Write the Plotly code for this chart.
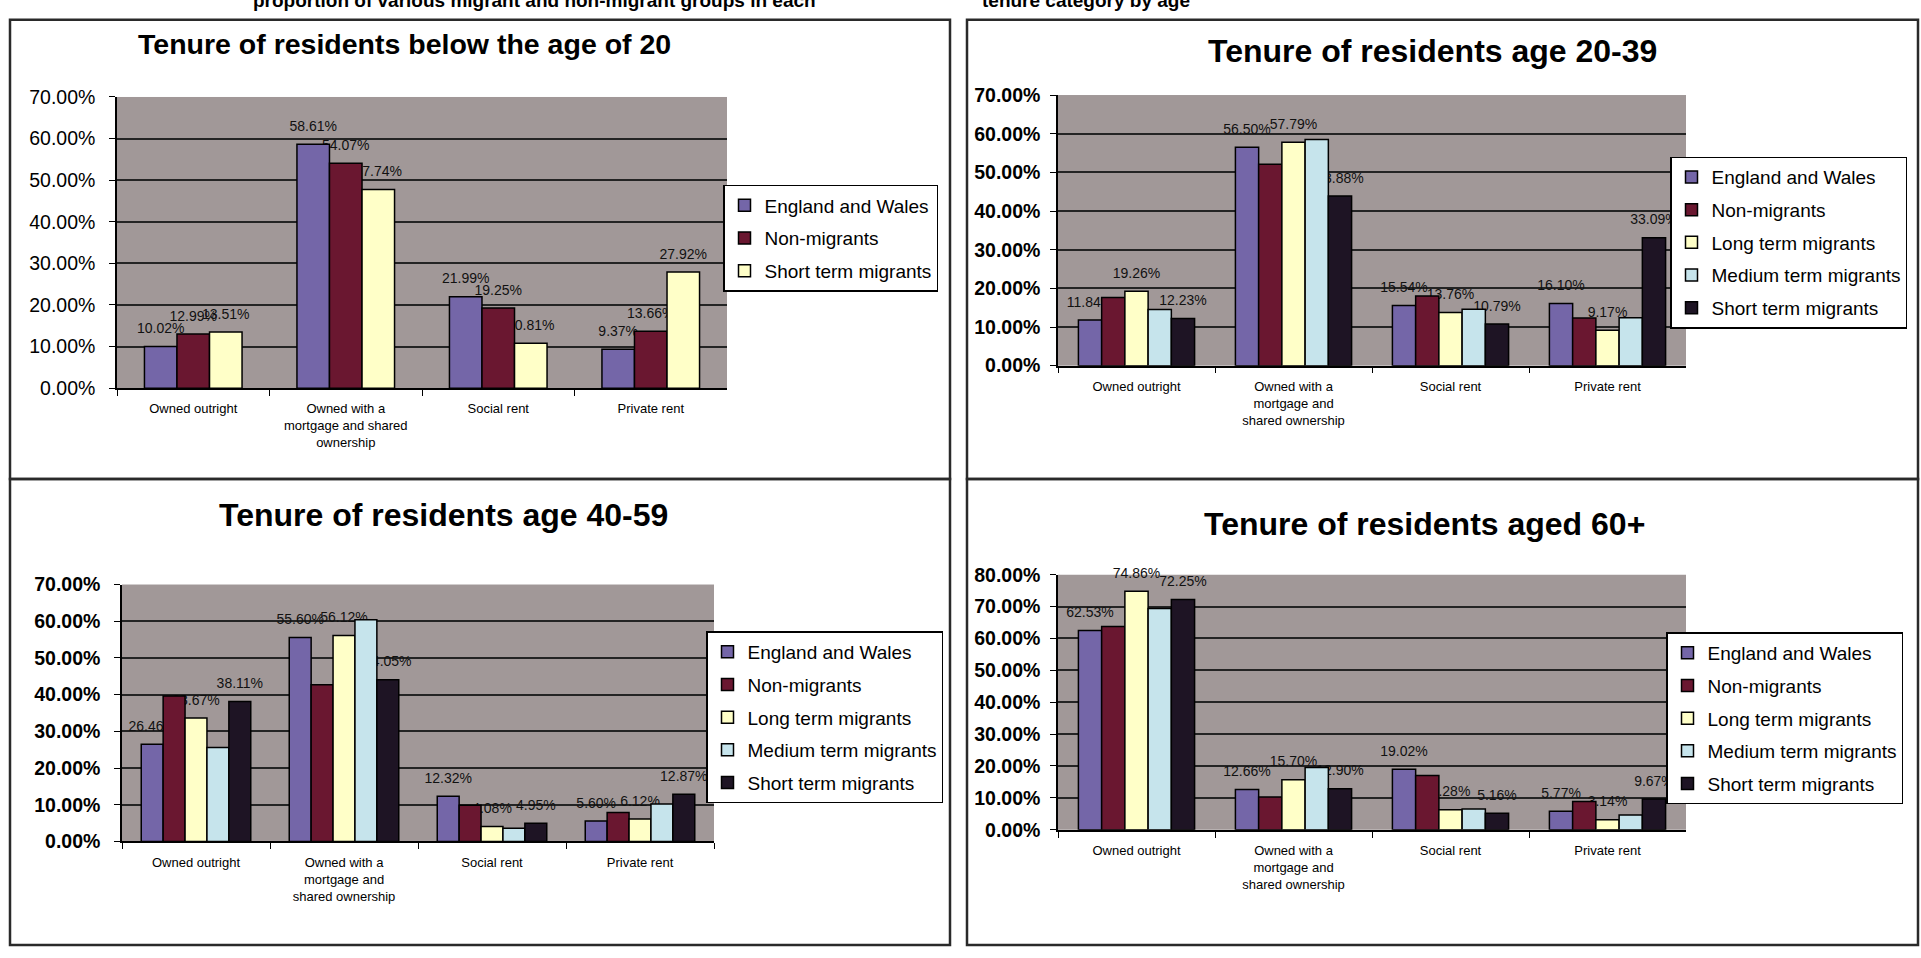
import plotly.graph_objects as go

W, H = 1921, 958
FONT = "Liberation Sans, Arial, sans-serif"

# ---- data -------------------------------------------------------------
CATS_U20 = ["Owned outright", "Owned with a<br>mortgage and shared<br>ownership",
            "Social rent", "Private rent"]
CATS = ["Owned outright", "Owned with a<br>mortgage and<br>shared ownership",
        "Social rent", "Private rent"]

SERIES_3 = ["England and Wales", "Non-migrants", "Short term migrants"]
SERIES_5 = ["England and Wales", "Non-migrants", "Long term migrants",
            "Medium term migrants", "Short term migrants"]

# residents below the age of 20 (%)
u20_england = [10.02, 58.61, 21.99, 9.37]
u20_nonmig = [12.99, 54.07, 19.25, 13.66]
u20_short = [13.51, 47.74, 10.81, 27.92]

# residents age 20-39 (%)
a20_england = [11.84, 56.50, 15.54, 16.10]
a20_nonmig = [17.6, 52.1, 18.0, 12.3]
a20_long = [19.26, 57.79, 13.76, 9.17]
a20_medium = [14.5, 58.5, 14.6, 12.4]
a20_short = [12.23, 43.88, 10.79, 33.09]

# residents age 40-59 (%)
a40_england = [26.46, 55.60, 12.32, 5.60]
a40_nonmig = [39.6, 42.7, 9.9, 7.9]
a40_long = [33.67, 56.12, 4.08, 6.12]
a40_medium = [25.6, 60.4, 3.6, 10.2]
a40_short = [38.11, 44.05, 4.95, 12.87]

# residents aged 60+ (%)
a60_england = [62.53, 12.66, 19.02, 5.77]
a60_nonmig = [63.8, 10.3, 17.0, 8.9]
a60_long = [74.86, 15.70, 6.28, 3.14]
a60_medium = [69.4, 19.5, 6.5, 4.6]
a60_short = [72.25, 12.90, 5.16, 9.67]

# ---- styling ----------------------------------------------------------
COLORS_5 = ["#7466A8", "#6A1730", "#FFFFC8", "#C6E4EC", "#1E1424"]
COLORS_3 = ["#7466A8", "#6A1730", "#FFFFC8"]
PLOT_BG = "#A19898"
GRID = "#242424"


def px_x(v):
    return v / W


def px_y(v):
    return 1 - v / H


panels = [
    dict(key="", legend="legend", title="Tenure of residents below the age of 20",
         title_xy=(404, 34), title_size=28.5, box=(10, 9, 950, 479),
         plot=(117, 88, 727, 386), ymax=70, cats=CATS_U20,
         series=list(zip(SERIES_3, [u20_england, u20_nonmig, u20_short], COLORS_3)),
         labelled=[0, 1, 2], cluster=0.64, legend_pos=(723, 178),
         bold_ticks=False, standoff=10),
    dict(key="2", legend="legend2", title="Tenure of residents age 20-39",
         title_xy=(1432, 41), title_size=32, box=(967, 9, 1918, 479),
         plot=(1058, 86, 1686, 363), ymax=70, cats=CATS,
         series=list(zip(SERIES_5, [a20_england, a20_nonmig, a20_long, a20_medium, a20_short], COLORS_5)),
         labelled=[0, 2, 4], cluster=0.74, legend_pos=(1670, 149),
         bold_ticks=True, standoff=6),
    dict(key="3", legend="legend3", title="Tenure of residents age 40-59",
         title_xy=(443, 516), title_size=32, box=(10, 479, 950, 956),
         plot=(122, 587, 714, 850), ymax=70, cats=CATS,
         series=list(zip(SERIES_5, [a40_england, a40_nonmig, a40_long, a40_medium, a40_short], COLORS_5)),
         labelled=[0, 2, 4], cluster=0.74, legend_pos=(706, 635),
         bold_ticks=True, standoff=10),
    dict(key="4", legend="legend4", title="Tenure of residents aged 60+",
         title_xy=(1424, 525), title_size=32, box=(967, 479, 1918, 956),
         plot=(1058, 577, 1686, 838), ymax=80, cats=CATS,
         series=list(zip(SERIES_5, [a60_england, a60_nonmig, a60_long, a60_medium, a60_short], COLORS_5)),
         labelled=[0, 2, 4], cluster=0.74, legend_pos=(1666, 636),
         bold_ticks=True, standoff=6),
]

fig = go.Figure()
layout = dict(
    width=W, height=H, margin=dict(l=0, r=0, t=0, b=0),
    paper_bgcolor="white", plot_bgcolor=PLOT_BG,
    barmode="overlay", showlegend=True,
    font=dict(family=FONT, color="black"),
    shapes=[], annotations=[],
)

LABEL_LIFT_PX = 7.5

for p in panels:
    xa = "x" + p["key"]
    ya = "y" + p["key"]
    x0, y0, x1, y1 = p["plot"]
    n = len(p["series"])
    bw = p["cluster"] / n
    offsets = [-p["cluster"] / 2 + i * bw for i in range(n)]
    lift = LABEL_LIFT_PX * p["ymax"] / (y1 - y0)

    # value labels sit underneath the columns, so they are drawn first
    for i in p["labelled"]:
        name, vals, _ = p["series"][i]
        fig.add_trace(go.Bar(
            x=p["cats"], y=vals, base=lift, xaxis=xa, yaxis=ya,
            offset=offsets[i], width=bw,
            marker=dict(color="rgba(0,0,0,0)", line=dict(width=0)),
            text=[f"{v:.2f}%" for v in vals], textposition="outside",
            textfont=dict(size=14, color="#111111", family=FONT),
            constraintext="none", cliponaxis=False,
            showlegend=False, hoverinfo="skip",
        ))

    for i, (name, vals, color) in enumerate(p["series"]):
        fig.add_trace(go.Bar(
            x=p["cats"], y=vals, name=name, xaxis=xa, yaxis=ya,
            offset=offsets[i], width=bw,
            marker=dict(color=color, line=dict(color="black", width=1.5)),
            legend=p["legend"], legendgroup=f"{p['legend']}_{i}",
        ))

    layout["xaxis" + p["key"]] = dict(
        domain=[px_x(x0), px_x(x1)], anchor=ya,
        showline=True, linecolor="black", linewidth=1.5,
        ticks="outside", tickson="boundaries", ticklen=6, tickcolor="black",
        tickfont=dict(size=13, family=FONT, color="black"),
        ticklabelstandoff=8, showgrid=False, fixedrange=True,
    )
    layout["yaxis" + p["key"]] = dict(
        domain=[px_y(y1), px_y(y0)], anchor=xa,
        range=[0, p["ymax"]], dtick=10, tickformat=".2f", ticksuffix="%",
        showline=True, linecolor="black", linewidth=1.5,
        ticks="outside", ticklen=6, tickcolor="black",
        showgrid=True, gridcolor=GRID, gridwidth=1.8, zeroline=False,
        tickfont=dict(size=19.5, family=FONT, color="black",
                      weight="bold" if p["bold_ticks"] else "normal"),
        ticklabelstandoff=p["standoff"], fixedrange=True,
    )
    lx, ly = p["legend_pos"]
    layout[p["legend"]] = dict(
        x=px_x(lx), y=px_y(ly), xanchor="left", yanchor="top",
        bgcolor="white", bordercolor="black", borderwidth=1.5,
        font=dict(size=19, family=FONT, color="black"),
        traceorder="grouped", tracegroupgap=5,
    )
    tx, ty = p["title_xy"]
    layout["annotations"].append(dict(
        text=f"<b>{p['title']}</b>", x=px_x(tx), y=px_y(ty),
        xref="paper", yref="paper", xanchor="center", yanchor="middle",
        showarrow=False, font=dict(size=p["title_size"], family=FONT, color="black"),
    ))
    bx0, by0, bx1, by1 = p["box"]
    layout["shapes"].append(dict(
        type="rect", xref="paper", yref="paper", layer="below",
        x0=px_x(bx0), x1=px_x(bx1), y0=px_y(by1), y1=px_y(by0),
        line=dict(color="#2a2a2a", width=2.5), fillcolor="rgba(0,0,0,0)",
    ))

# figure caption running along the top edge of the page
for txt, cx in [("proportion of various migrant and non-migrant groups in each", 251),
                ("tenure category by age", 980)]:
    layout["annotations"].append(dict(
        text=f"<b>{txt}</b>", x=px_x(cx), y=1, xref="paper", yref="paper",
        xanchor="left", yanchor="middle", yshift=11, showarrow=False,
        font=dict(size=19, family=FONT, color="black"),
    ))

fig.update_layout(**layout)
fig.write_html("out.html")
